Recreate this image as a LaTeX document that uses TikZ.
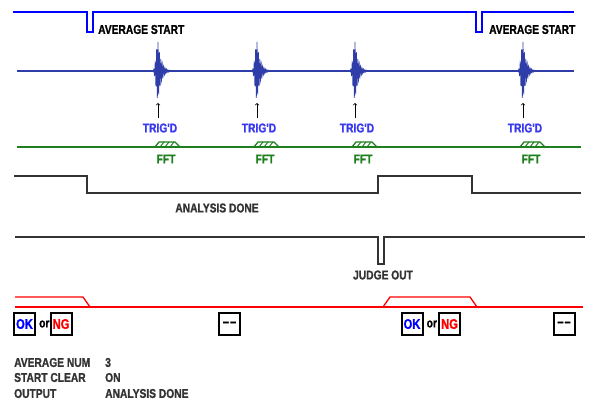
\documentclass[tikz,border=0pt]{standalone}
\usepackage{fontspec}
\newfontfamily\timingfont[FakeStretch=0.8, BoldFeatures={FakeBold=1.2}]{Liberation Sans}
\usepackage{tikz}
\usetikzlibrary{arrows,positioning}

\definecolor{startblue}{HTML}{0000FF}
\definecolor{sigblue}{HTML}{2E3DA8}
\definecolor{trigblue}{HTML}{3838F0}
\definecolor{fftgreen}{HTML}{1E7F1E}
\definecolor{donegray}{HTML}{333333}
\definecolor{judgered}{HTML}{FF0000}

\begin{document}
\begin{tikzpicture}[x=1pt, y=-1pt,
        sigtext/.style={font=\timingfont\bfseries\fontsize{12.8}{14}\selectfont, inner sep=0pt},
        boxtext/.style={font=\timingfont\bfseries\fontsize{14}{16}\selectfont, draw=black, line width=2pt, minimum width=21pt, minimum height=22pt, inner sep=0pt},
        startline/.style={startblue, line width=1.4pt},
        sigline/.style={sigblue, line width=1.8pt},
        fftline/.style={fftgreen, line width=1.8pt},
        doneline/.style={donegray, line width=1.8pt},
        busline/.style={judgered, line width=1.3pt},
        trigarrow/.style={->, black, line width=0.7pt}
    ]
        \useasboundingbox (0,0) rectangle (599,410);

        % Average start
        \draw[startline] (13,12) -- (87,12) -- (87,32) -- (93,32) -- (93,12) -- (476,12) -- (476,32) -- (482,32) -- (482,12) -- (574,12);
        \node[sigtext, anchor=west] (avgstartA) at (98,29.5) {AVERAGE START};
        \node[sigtext, anchor=west] (avgstartB) at (489,29.5) {AVERAGE START};

        % Input signal with bursts
        \draw[sigline] (17,71) -- (574,71);
        \foreach \c [count=\i] in {158,257,355,523} {
            \draw[sigblue, line width=0.7pt] plot[domain=0:26, samples=261, variable=\t]
                ({\c-8+\t}, {71 - ((\t<8) ? 29*exp(-((\t-8)/2.6)^2) : 29*exp(-(\t-8)/3.2))*cos((\t-8)*257)});
            \coordinate (peak\i) at (\c,103);
            \node[sigtext, text=trigblue] (trig\i) at (\c+2,128) {TRIG'D};
            \draw[trigarrow, shorten <=5pt] (trig\i.north -| peak\i) -- (peak\i);
        }

        % FFT
        \draw[fftline] (17,147) -- (581,147);
        \foreach \c [count=\i] in {158,257,355,523} {
            \draw[fftgreen, line width=1.3pt] (\c-3,147) -- (\c+1,142) -- (\c+17,142) -- (\c+22,147);
            \foreach \h in {2,7,12}
                \draw[fftgreen, line width=1pt] (\c+\h,147) -- (\c+\h+4,142);
            \node[sigtext, text=fftgreen] (fft\i) at (\c+8,159) {FFT};
        }

        % Analysis done
        \draw[doneline] (14,176) -- (87,176) -- (87,193) -- (378,193) -- (378,176) -- (472,176) -- (472,193) -- (581,193);
        \node[sigtext, text=donegray] (done) at (217,208) {ANALYSIS DONE};

        % Judge out
        \draw[doneline] (15,237) -- (378,237) -- (378,264) -- (384,264) -- (384,237) -- (585,237);
        \node[sigtext, text=donegray] (judge) at (383,275) {JUDGE OUT};

        % Judge result bus
        \draw[busline] (15,297) -- (83,297) -- (90,307);
        \draw[busline] (15,307) -- (583,307);
        \draw[busline] (383,307) -- (390,297) -- (470,297) -- (477,307);

        % Results
        \node[boxtext, text=startblue] (okA) at (24.5,324) {OK};
        \node[sigtext, right=3pt of okA] (orA) {or};
        \node[boxtext, text=judgered] (ngA) at (61,324) {NG};
        \node[boxtext] (nulA) at (229.5,324) {\textendash\kern1pt\textendash};
        \node[boxtext, text=startblue] (okB) at (412,324) {OK};
        \node[sigtext, right=3pt of okB] (orB) {or};
        \node[boxtext, text=judgered] (ngB) at (449.5,324) {NG};
        \node[boxtext] (nulB) at (564,324) {\textendash\kern1pt\textendash};

        % Settings
        \node[sigtext, text=donegray, anchor=west] (numkey) at (14,362.5) {AVERAGE NUM};
        \node[sigtext, text=donegray, anchor=west] (clearkey) at (14,377.5) {START CLEAR};
        \node[sigtext, text=donegray, anchor=west] (outkey) at (14,393.5) {OUTPUT};
        \node[sigtext, text=donegray, anchor=west] (numval) at (105,362.5) {3};
        \node[sigtext, text=donegray, anchor=west] (clearval) at (105,377.5) {ON};
        \node[sigtext, text=donegray, anchor=west] (outval) at (105,393.5) {ANALYSIS DONE};
    \end{tikzpicture}
\end{document}
